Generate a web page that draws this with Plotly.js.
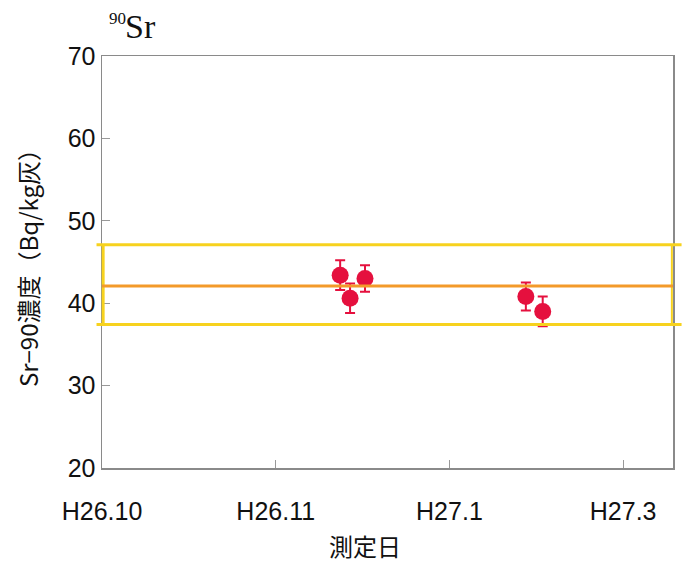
<!DOCTYPE html>
<html>
<head>
<meta charset="utf-8">
<script src="https://cdn.plot.ly/plotly-3.0.1.min.js"></script>
<style>
  html, body { margin: 0; padding: 0; background: #fff; }
  #chart { width: 686px; height: 564px; }
</style>
</head>
<body>
<div id="chart"></div>
<script>
// Tick positions on the date axis and their labels
const tickPos = [0, 1, 2, 3];
const tickLabels = ["H26.10", "H26.11", "H27.1", "H27.3"];

// Measurements: position on the date axis, Sr-90 concentration and its uncertainty
const sampleX = [1.371, 1.428, 1.514, 2.44, 2.537];
const sampleY = [43.4, 40.6, 43.0, 40.8, 39.0];
const sampleErr = [1.8, 1.8, 1.6, 1.7, 1.8];

// Reference band: mean and upper / lower limits
const refMean = 42.1;
const refUpper = 47.1;
const refLower = 37.4;

const FONT = "Liberation Sans, Arial, 'Noto Sans CJK JP', sans-serif";
const JFONT = "'Noto Sans CJK JP', 'Liberation Sans', sans-serif";
const RED = "#E5103E";
const YELLOW = "#F7D21E";
const ORANGE = "#F39A2A";
const INK = "#111111";

const traces = [{
  type: "scatter",
  mode: "markers",
  x: sampleX,
  y: sampleY,
  error_y: { type: "data", array: sampleErr, visible: true, color: RED, thickness: 2, width: 5 },
  marker: { size: 17, color: RED },
  hoverinfo: "y",
  showlegend: false
}];

const shapes = [
  { type: "line", xref: "paper", yref: "y", x0: -0.0096, x1: 1.015, y0: refUpper, y1: refUpper, line: { color: YELLOW, width: 3 } },
  { type: "line", xref: "paper", yref: "y", x0: -0.0096, x1: 1.015, y0: refLower, y1: refLower, line: { color: YELLOW, width: 3 } },
  { type: "line", xref: "paper", yref: "y", x0: 0.002, x1: 0.002, y0: refLower, y1: refUpper, line: { color: YELLOW, width: 3 } },
  { type: "line", xref: "paper", yref: "y", x0: 0.998, x1: 0.998, y0: refLower, y1: refUpper, line: { color: YELLOW, width: 2 } },
  { type: "line", xref: "paper", yref: "y", x0: 0, x1: 1, y0: refMean, y1: refMean, line: { color: ORANGE, width: 3 } }
];

const layout = {
  width: 686,
  height: 564,
  margin: { l: 101.5, r: 12.5, t: 56, b: 96 },
  paper_bgcolor: "#ffffff",
  plot_bgcolor: "#ffffff",
  font: { family: FONT, color: INK },
  xaxis: {
    range: [0, 3.287],
    tickmode: "array",
    tickvals: tickPos,
    ticktext: tickLabels,
    ticks: "inside",
    ticklen: 8,
    tickcolor: "#999999",
    tickwidth: 1,
    ticklabelstandoff: 20,
    tickfont: { size: 25, family: FONT, color: INK },
    showgrid: false,
    zeroline: false,
    showline: true,
    linecolor: "#8a8a8a",
    linewidth: 1.5,
    mirror: true,
    fixedrange: true
  },
  yaxis: {
    range: [20, 70],
    tickmode: "linear",
    tick0: 20,
    dtick: 10,
    ticks: "inside",
    ticklen: 8,
    tickcolor: "#999999",
    tickwidth: 1,
    tickfont: { size: 25, family: FONT, color: INK },
    showgrid: false,
    zeroline: false,
    showline: true,
    linecolor: "#8a8a8a",
    linewidth: 1.5,
    mirror: true,
    automargin: false,
    title: { text: "Sr\u221290濃度（Bq/kg灰）", font: { size: 24, family: JFONT, color: INK }, standoff: 22 },
    fixedrange: true
  },
  shapes: shapes,
  annotations: [
    { text: "90", xref: "paper", yref: "paper", x: 0.0079, y: 1.0922, xanchor: "left", yanchor: "middle", showarrow: false,
      font: { family: "Liberation Serif, 'Times New Roman', serif", size: 17, color: INK } },
    { text: "Sr", xref: "paper", yref: "paper", x: 0.0376, y: 1.0728, xanchor: "left", yanchor: "middle", showarrow: false,
      font: { family: "Liberation Serif, 'Times New Roman', serif", size: 34, color: INK } },
    { text: "測定日", xref: "paper", yref: "paper", x: (365 - 101.5) / 572, y: (468 - 545) / 412, xanchor: "center", yanchor: "middle", showarrow: false,
      font: { family: JFONT, size: 24, color: INK } }
  ]
};

Plotly.newPlot("chart", traces, layout, { displayModeBar: false, staticPlot: true });
</script>
</body>
</html>
